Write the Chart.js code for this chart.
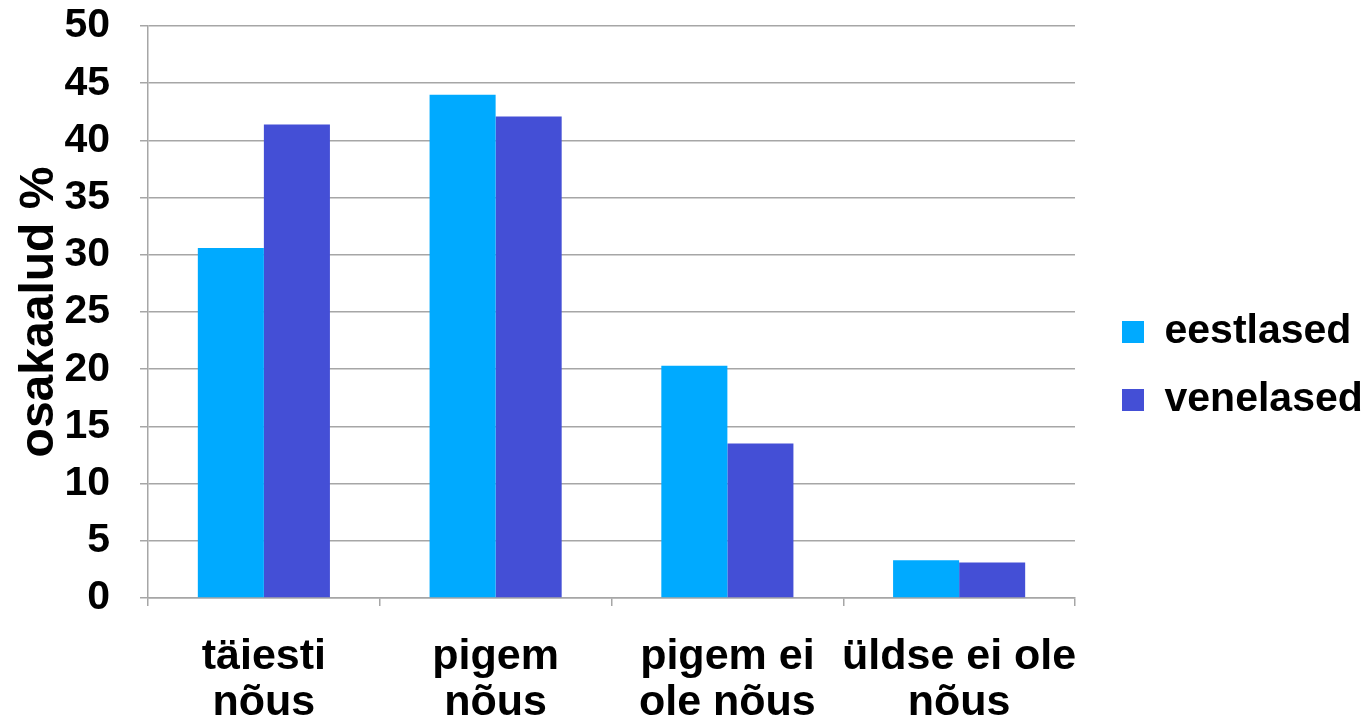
<!DOCTYPE html>
<html>
<head>
<meta charset="utf-8">
<script src="https://cdn.jsdelivr.net/npm/chart.js@4/dist/chart.umd.min.js"></script>
<style>
html,body{margin:0;padding:0;background:#fff;}
#wrap{width:1366px;height:721px;position:relative;}
</style>
</head>
<body>
<div id="wrap"><canvas id="c" width="1366" height="721"></canvas></div>
<script>
const categories = [['täiesti','nõus'], ['pigem','nõus'], ['pigem ei','ole nõus'], ['üldse ei ole','nõus']];
const seriesNames = ['eestlased', 'venelased'];
const eestlased = [30.6, 44.0, 20.3, 3.3];
const venelased = [41.4, 42.1, 13.5, 3.1];
const yTitle = 'osakaalud %';

const FONT = 'Liberation Sans, Arial, sans-serif';
const GRID = '#a6a6a6';

// keeps the legend block to the right of a small gap after the plot area
const legendGap = {
  id: 'legendGap',
  beforeLayout(chart) {
    const lg = chart.legend;
    if (lg && !lg.__patched) {
      const orig = lg.fit;
      lg.fit = function () { orig.call(this); this.width = Math.max(this.width, 291); };
      lg.__patched = true;
    }
  },
  afterLayout(chart) {
    const lg = chart.legend;
    if (lg) { lg.left += 20; lg.top -= 7.5; lg.bottom -= 7.5; }
  }
};

new Chart(document.getElementById('c'), {
  type: 'bar',
  data: {
    labels: categories,
    datasets: [
      { label: seriesNames[0], data: eestlased, backgroundColor: '#00aaff', borderWidth: 0 },
      { label: seriesNames[1], data: venelased, backgroundColor: '#444fd6', borderWidth: 0 }
    ]
  },
  plugins: [legendGap],
  options: {
    responsive: false,
    animation: false,
    devicePixelRatio: 1,
    categoryPercentage: 0.57,
    barPercentage: 1.0,
    layout: { padding: { top: 26, right: 0, bottom: 0, left: 0 } },
    plugins: {
      tooltip: { enabled: false },
      legend: {
        position: 'right',
        align: 'center',
        labels: {
          boxWidth: 22,
          boxHeight: 22,
          padding: 27,
          color: '#000',
          font: { family: FONT, size: 41, weight: 'bold' }
        }
      }
    },
    scales: {
      x: {
        grid: { display: true, drawOnChartArea: false, color: GRID, lineWidth: 1.5, tickLength: 8, offset: true },
        border: { display: true, color: GRID, width: 1.5 },
        ticks: { color: '#000', padding: 28, maxRotation: 0, autoSkip: false, font: { family: FONT, size: 43, weight: 'bold', lineHeight: 1.07 } },
        afterFit: s => { s.height = 123; s.paddingLeft = 0; s.paddingRight = 0; }
      },
      y: {
        min: 0, max: 50,
        ticks: { stepSize: 5, color: '#000', padding: 30, font: { family: FONT, size: 41, weight: 'bold' } },
        grid: { color: GRID, lineWidth: 1.5, tickLength: 8 },
        border: { display: true, color: GRID, width: 1.5 },
        title: { display: true, text: yTitle, color: '#000', padding: { top: 11, bottom: 0 }, font: { family: FONT, size: 48, weight: 'bold' } },
        afterFit: s => { s.width = 148; s.paddingTop = 0; s.paddingBottom = 0; }
      }
    }
  }
});
</script>
</body>
</html>
